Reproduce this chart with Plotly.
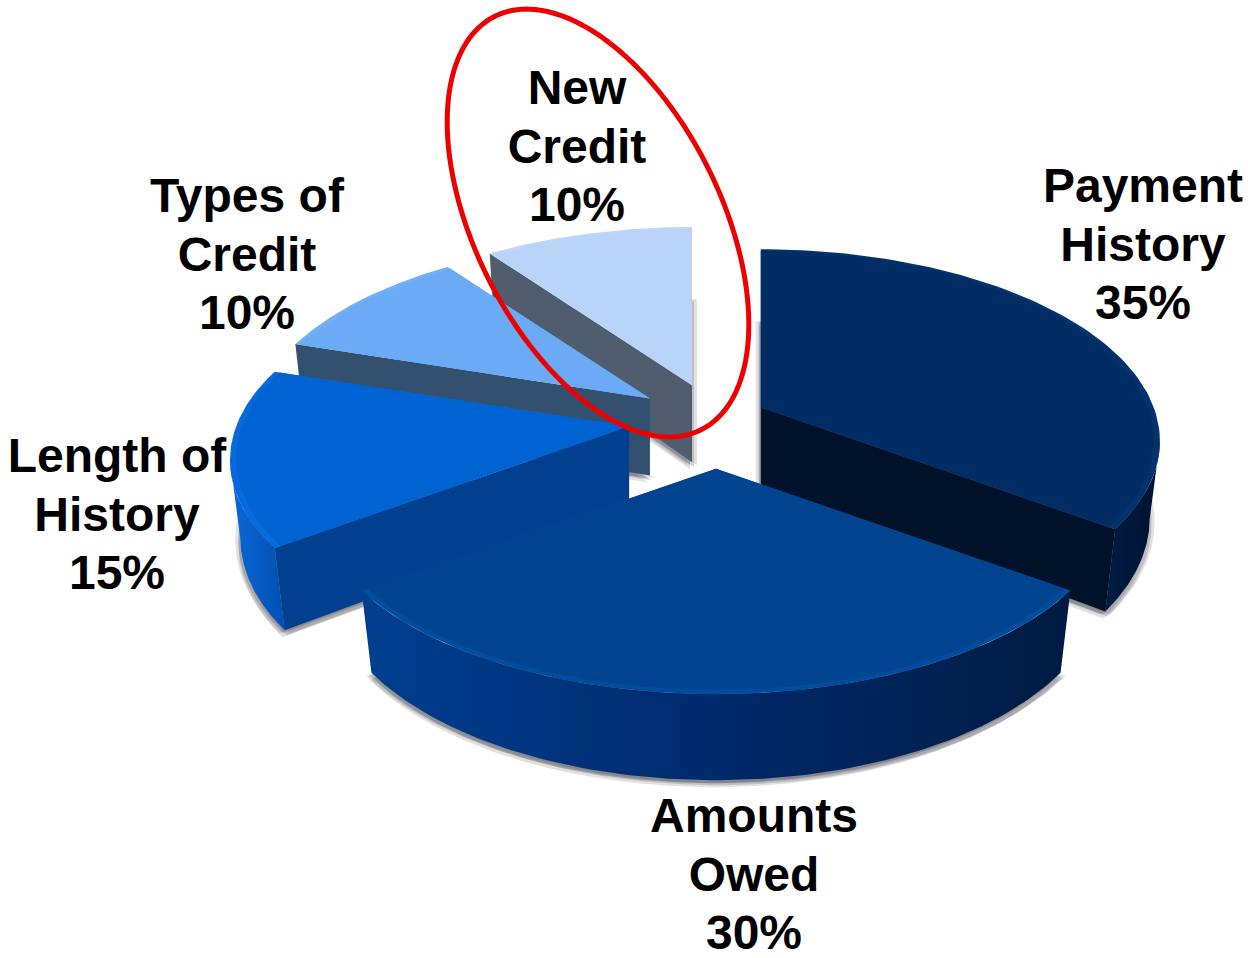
import numpy as np
import plotly.graph_objects as go

# Share of a FICO-style credit score, clockwise from twelve o'clock
categories = ["Payment History", "Amounts Owed", "Length of History", "Types of Credit", "New Credit"]
values = [35, 30, 15, 10, 10]
label_lines = [["Payment", "History", "35%"], ["Amounts", "Owed", "30%"],
               ["Length of", "History", "15%"], ["Types of", "Credit", "10%"],
               ["New", "Credit", "10%"]]
label_centres = [(1143, 190), (754, 820), (117, 460), (247, 200), (577, 92)]
explode = [0.125, 0.257, 0.216, 0.214, 0.214]
nudges = [(1, -6), (0, -3), (-3, -4), (2, -2), (2, -1)]

top_colours = ["#012d64", "#00448f", "#0063d2", "#6babf6", "#b9d4f6"]
rim_colours = ["#02336f", "#004c9f", "#066ade", "#72aff7", "#bed7f7"]
cut_colours = ["#001229", None, "#00408e", "#34506f", "#4f5d6f"]
wall_scales = [
    [[0, "#001d42"], [1, "#001230"]],
    [[0, "#003f90"], [0.5, "#002a6c"], [1, "#001b42"]],
    [[0, "#0a68d8"], [1, "#0050b4"]],
    [[0, "#34506f"], [1, "#34506f"]],
    [[0, "#4f5d6f"], [1, "#4f5d6f"]],
]

# Projection of the tilted disc
CENTRE = (716.0, 424.0)
RADIUS = 393.0
TILT = 0.473
PERSPECTIVE = 0.175
DEPTH = 77.0
TAPER = 0.975
DRAW_ORDER = [4, 3, 2, 0, 1]


def project(angle, r, apex, lower=False):
    """Screen position of a point on a slice, given its polar position on the disc."""
    scale = TAPER if lower else 1.0
    x = r * np.sin(angle) * scale
    y = r * np.cos(angle) * scale
    p = 1.0 / (1.0 + PERSPECTIVE * y)
    sx = apex[0] + RADIUS * x * p
    sy = apex[1] - RADIUS * TILT * y * p + (DEPTH * p if lower else 0.0)
    return sx, sy


def sector(a0, a1, apex, r=1.0, lower=False):
    angles = np.linspace(a0, a1, 90)
    xs, ys = project(angles, r, apex, lower)
    ax, ay = project(0.0, 0.0, apex, lower)
    return np.r_[ax, xs, ax], np.r_[ay, ys, ay]


def filled(xs, ys, color=None, scale=None):
    style = dict(x=xs, y=ys, mode="lines", fill="toself", hoverinfo="skip",
                 showlegend=False, line=dict(width=0))
    if scale is not None:
        style["fillgradient"] = dict(type="horizontal", colorscale=scale)
    else:
        style["fillcolor"] = color
    return go.Scatter(**style)


edges = np.r_[0.0, np.cumsum(values)] / np.sum(values) * 2 * np.pi
slices = []
for i in range(len(values)):
    a0, a1 = edges[i], edges[i + 1]
    mid = (a0 + a1) / 2
    apex = (CENTRE[0] + nudges[i][0] + RADIUS * explode[i] * np.sin(mid),
            CENTRE[1] + nudges[i][1] - RADIUS * TILT * explode[i] * np.cos(mid))
    slices.append((a0, a1, apex))

fig = go.Figure()

# Soft drop shadow under every slice
for a0, a1, apex in slices:
    xs, ys = sector(a0, a1, apex, lower=True)
    for dx, dy, alpha in [(-5, 3, 0.16), (5, 3, 0.16), (-2, 7, 0.16), (2, 5, 0.22), (-2, 3, 0.25)]:
        fig.add_trace(filled(xs + dx, ys + dy, f"rgba(70,70,80,{alpha})"))

# Slices from back to front: cut faces, outer wall, then the lit top
for i in DRAW_ORDER:
    a0, a1, apex = slices[i]
    for a, outward in ((a0, np.sin(a0)), (a1, -np.sin(a1))):
        if outward < -1e-6:
            rim_top = project(a, 1.0, apex)
            rim_low = project(a, 1.0, apex, True)
            ax_top = project(0.0, 0.0, apex)
            ax_low = project(0.0, 0.0, apex, True)
            fig.add_trace(filled([ax_top[0], rim_top[0], rim_low[0], ax_low[0], ax_top[0]],
                                 [ax_top[1], rim_top[1], rim_low[1], ax_low[1], ax_top[1]],
                                 cut_colours[i]))
    limit = np.arccos(-PERSPECTIVE)
    lo, hi = max(a0, limit), min(a1, 2 * np.pi - limit)
    if lo < hi:
        angles = np.linspace(lo, hi, 120)
        tx, ty = project(angles, 1.0, apex)
        bx, by = project(angles, 1.0, apex, True)
        fig.add_trace(filled(np.r_[tx, bx[::-1], tx[0]], np.r_[ty, by[::-1], ty[0]],
                             scale=wall_scales[i]))
    xs, ys = sector(a0, a1, apex)
    fig.add_trace(filled(xs, ys, rim_colours[i]))
    xs, ys = sector(a0, a1, apex, r=0.985)
    fig.add_trace(filled(xs, ys, top_colours[i]))

# Red ring drawn round the "New Credit" slice
t = np.linspace(0, 2 * np.pi, 360)
major, minor, lean = 231.0, 123.0, np.radians(-26.5)
rx = major * np.sin(t)
ry = minor * np.cos(t)
ring_x = 598 + ry * np.cos(lean) + rx * np.sin(lean) * -1
ring_y = 223 + ry * np.sin(lean) + rx * np.cos(lean)
fig.add_trace(go.Scatter(x=ring_x, y=ring_y, mode="lines", hoverinfo="skip", showlegend=False,
                         line=dict(color="#ee0000", width=5, simplify=False)))

# Category labels, one text mark per line
text_x, text_y, text_s = [], [], []
for lines, (cx, cy) in zip(label_lines, label_centres):
    for n, line in enumerate(lines):
        text_x.append(cx)
        text_y.append(cy + 58.5 * n)
        text_s.append(f"<b>{line}</b>")
fig.add_trace(go.Scatter(x=text_x, y=text_y, text=text_s, mode="text", hoverinfo="skip",
                         showlegend=False, textposition="middle center", cliponaxis=False,
                         textfont=dict(family="Liberation Sans", size=48, color="#000000")))

fig.update_layout(
    width=1248, height=958, autosize=False,
    margin=dict(l=0, r=0, t=0, b=0),
    paper_bgcolor="white", plot_bgcolor="white",
    xaxis=dict(range=[0, 1248], visible=False, fixedrange=True),
    yaxis=dict(range=[958, 0], visible=False, fixedrange=True),
)
fig.write_html("out.html", config={"displayModeBar": False})
